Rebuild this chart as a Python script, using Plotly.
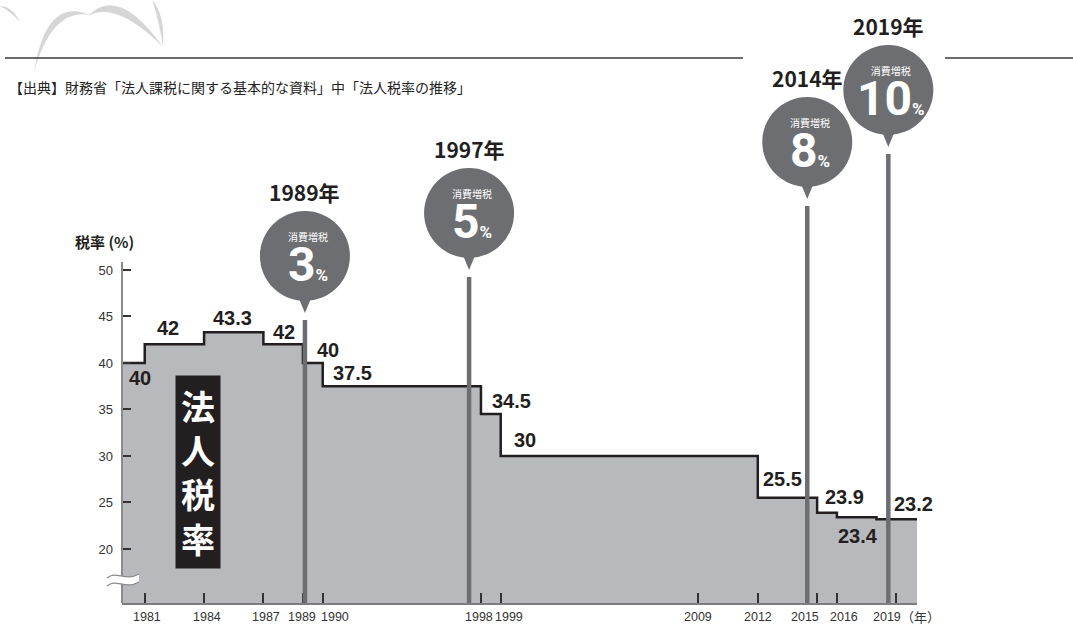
import plotly.graph_objects as go

# ---------------- data ----------------
change_years = [1981, 1984, 1987, 1989, 1990, 1998, 1999, 2012, 2015, 2016, 2018]
rates = [40, 42, 43.3, 42, 40, 37.5, 34.5, 30, 25.5, 23.9, 23.4, 23.2]   # first = rate before 1981
rate_labels = ["40", "42", "43.3", "42", "40", "37.5", "34.5", "30", "25.5", "23.9", "23.4", "23.2"]

tick_years = [1981, 1984, 1987, 1989, 1990, 1998, 1999, 2009, 2012, 2015, 2016, 2019]
tick_labels = ["1981", "1984", "1987", "1989", "1990", "1998", "1999", "2009", "2012", "2015", "2016", "2019"]

y_ticks = [20, 25, 30, 35, 40, 45, 50]

event_x = [1989.1, 1997.4, 2014.5, 2018.6]
event_year_text = ["1989年", "1997年", "2014年", "2019年"]
event_rate_text = ["3", "5", "8", "10"]

source_text = "【出典】財務省「法人課税に関する基本的な資料」中「法人税率の推移」"
y_title = "税率 (%)"
box_label = "法人税率"

# ---------------- layout constants ----------------
W, H = 1073, 625
ML, MR, MT, MB = 122, 156, 0, 22
X_RANGE = [1979.85, 2020.05]
Y_RANGE = [14.19, 79.03]
PW = W - ML - MR
PH = H - MT - MB

def ppx(x):
    return (x - ML) / PW

def ppy(y):
    return (H - MB - y) / PH

def year_paper(yr):
    return (yr - X_RANGE[0]) / (X_RANGE[1] - X_RANGE[0])

CJK = "Noto Sans CJK JP"
NUM = "Liberation Sans"
BAL = "#6d6e71"
INK = "#231f20"

# label offsets (pixels, right / down) relative to segment start
label_off = [(18, 15), (23, -16), (28, -14), (21, -12), (25, -13), (30, -13),
             (31, -13), (24, -16), (25, -19), (27, -16), (21, 19), (37, -15)]
tick_shift = [2, 3, 3, -1, 12, -2, 8, 0, 0, -12, 7, -9]
balloon_cy = [256, 213, 142, 90]     # balloon centre (pixel from top)

# ---------------- figure ----------------
step_x = [X_RANGE[0]] + change_years + [X_RANGE[1]]
step_y = rates + [rates[-1]]

fig = go.Figure()
fig.add_trace(go.Scatter(
    x=step_x, y=step_y, mode="lines", line_shape="hv",
    line=dict(color=INK, width=2.5),
    fill="tozeroy", fillcolor="#b8b9bc", hoverinfo="skip", showlegend=False))

shapes = []
annotations = []

def ann(**kw):
    kw.setdefault("showarrow", False)
    kw.setdefault("xanchor", "center")
    kw.setdefault("yanchor", "middle")
    annotations.append(kw)

# decorative swoosh
def crescent(p0, p1, c_out, c_in):
    return (f"M {ppx(p0[0])},{ppy(p0[1])} Q {ppx(c_out[0])},{ppy(c_out[1])} {ppx(p1[0])},{ppy(p1[1])} "
            f"Q {ppx(c_in[0])},{ppy(c_in[1])} {ppx(p0[0])},{ppy(p0[1])} Z")

for p0, p1, co, ci in [((0, 6), (20, 22), (12, 6), (10, 11)),
                       ((34, 72), (90, 15), (46, -4), (52, 8)),
                       ((88, 16), (163, 47), (118, -16), (116, 0)),
                       ((152, 0), (163, 46), (165, 14), (158, 16))]:
    shapes.append(dict(type="path", xref="paper", yref="paper", path=crescent(p0, p1, co, ci),
                       fillcolor="#c8c8c8", line=dict(width=0), opacity=0.75, layer="below"))

# top rule
for a, b in [(5, 743), (945, 1073)]:
    shapes.append(dict(type="line", xref="paper", yref="paper", x0=ppx(a), x1=ppx(b),
                       y0=ppy(58), y1=ppy(58), line=dict(color="#3a3a3a", width=1.5)))

# y axis line
shapes.append(dict(type="line", xref="paper", yref="paper", x0=0, x1=0, y0=0, y1=ppy(262),
                   line=dict(color="#8a8a8a", width=2)))

# axis break (wavy)
def wave(y):
    return (f"M {ppx(107)},{ppy(y+4)} C {ppx(116)},{ppy(y-4)} {ppx(125)},{ppy(y+8)} {ppx(139)},{ppy(y)}")
band = (f"M {ppx(107)},{ppy(578)} C {ppx(116)},{ppy(570)} {ppx(125)},{ppy(582)} {ppx(139)},{ppy(574)} "
        f"L {ppx(139)},{ppy(582)} C {ppx(125)},{ppy(590)} {ppx(116)},{ppy(578)} {ppx(107)},{ppy(586)} Z")
shapes.append(dict(type="path", xref="paper", yref="paper", path=band, fillcolor="white", line=dict(width=0)))
for yy in (574, 582):
    shapes.append(dict(type="path", xref="paper", yref="paper", path=wave(yy),
                       line=dict(color="#8a8a8a", width=1.3)))

# consumption tax balloons
for ex, cy, yt, rt in zip(event_x, balloon_cy, event_year_text, event_rate_text):
    xp = year_paper(ex)
    shapes.append(dict(type="line", xref="paper", yref="paper", x0=xp, x1=xp, y0=0, y1=ppy(cy + 64),
                       line=dict(color=BAL, width=4.5)))
    shapes.append(dict(type="circle", xref="paper", yref="paper", xsizemode="pixel", ysizemode="pixel",
                       xanchor=xp, yanchor=ppy(cy), x0=-45, x1=45, y0=-45, y1=45,
                       fillcolor=BAL, line=dict(width=0)))
    shapes.append(dict(type="path", xref="paper", yref="paper", xsizemode="pixel", ysizemode="pixel",
                       xanchor=xp, yanchor=ppy(cy), path="M -7,-40 L 7,-40 L 0,-57 Z",
                       fillcolor=BAL, line=dict(width=0)))
    ann(x=xp, y=ppy(cy), xref="paper", yref="paper", yshift=64,
        text=f"<b>{yt}</b>", font=dict(family=CJK, size=21, color=INK))
    ann(x=xp, y=ppy(cy), xref="paper", yref="paper", yshift=-5, xshift=3,
        text=(f"<span style='font-size:10px;font-family:\"{CJK}\"'>消費増税</span><br>"
              f"<span style='font-size:48px'><b>{rt}</b></span>"
              f"<span style='font-size:17px'><b>%</b></span>"),
        font=dict(family="Roboto", size=31, color="white"))

# value labels
seg_start = [X_RANGE[0]] + change_years
for xs, r, lab, (dx, dy) in zip(seg_start, rates, rate_labels, label_off):
    ann(x=xs, y=r, xref="x", yref="y", xshift=dx, yshift=-dy,
        text=f"<b>{lab}</b>", font=dict(family=NUM, size=20, color=INK))

# x tick labels
for tv, tl, sh in zip(tick_years, tick_labels, tick_shift):
    ann(x=tv, y=ppy(617), xref="x", yref="paper", xshift=sh,
        text=tl, font=dict(family=NUM, size=12.5, color="#333333"))
ann(x=ppx(920), y=ppy(617), xref="paper", yref="paper",
    text="（年）", font=dict(family=CJK, size=13, color="#333333"))

# y title
ann(x=ppx(104), y=ppy(242), xref="paper", yref="paper",
    text=f"<b>{y_title}</b>", font=dict(family=CJK, size=15, color=INK))

# source
ann(x=ppx(7), y=ppy(87), xref="paper", yref="paper", xanchor="left",
    text=source_text, font=dict(family=CJK, size=14, color="#222222"))

# vertical box label
ann(x=ppx(198), y=ppy(472), xref="paper", yref="paper",
    text="<b>" + "<br>".join(box_label) + "</b>", bgcolor=INK, borderpad=5,
    font=dict(family=CJK, size=34, color="white"))

fig.update_layout(
    width=W, height=H, margin=dict(l=ML, r=MR, t=MT, b=MB, autoexpand=False),
    paper_bgcolor="white", plot_bgcolor="white", showlegend=False,
    shapes=shapes, annotations=annotations,
    xaxis=dict(range=X_RANGE, showgrid=False, zeroline=False, showline=True, linecolor="#7d7d7d",
               linewidth=2, ticks="inside", ticklen=10, tickwidth=1.5, tickcolor="#333333",
               tickvals=tick_years, showticklabels=False, fixedrange=True),
    yaxis=dict(range=Y_RANGE, showgrid=False, zeroline=False, showline=False, ticks="inside",
               ticklen=9, tickwidth=1.5, tickcolor="#333333", tickvals=y_ticks,
               ticktext=[str(v) for v in y_ticks], ticklabelstandoff=8,
               tickfont=dict(family=NUM, size=13, color="#333333"), fixedrange=True),
)

fig.write_html("out.html", config={"displayModeBar": False},
               post_script="document.body.style.margin='0px';")
